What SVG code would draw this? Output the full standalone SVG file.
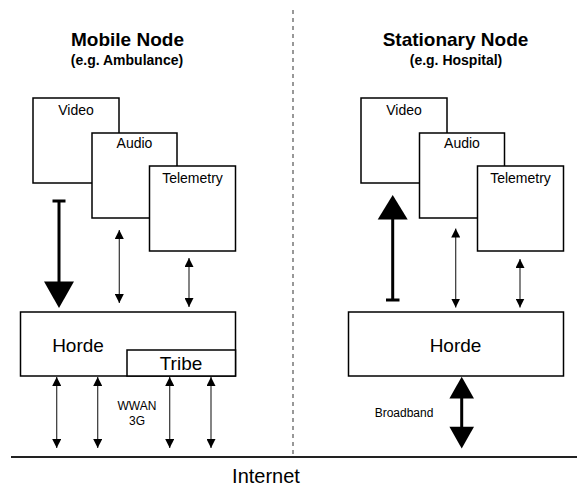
<svg xmlns="http://www.w3.org/2000/svg" width="577" height="488" viewBox="0 0 577 488">
  <defs>
    <style>
      text { font-family: "Liberation Sans", Arial, sans-serif; fill: #000; }
      .title { font-size: 19px; font-weight: bold; text-anchor: middle; }
      .sub { font-size: 14px; font-weight: bold; text-anchor: middle; }
      .lbl { font-size: 14px; text-anchor: middle; }
      .big { font-size: 19px; text-anchor: middle; }
      .small { font-size: 12px; text-anchor: middle; }
      .box { fill: #fff; stroke: #000; stroke-width: 1.5; }
      .thin { stroke: #333; stroke-width: 1.2; fill: none; }
      .thick { stroke: #000; stroke-width: 3; fill: none; }
      .head { fill: #000; }
    </style>
    <marker id="sm" viewBox="0 0 10 10" refX="10" refY="5" markerWidth="9" markerHeight="9" markerUnits="userSpaceOnUse" orient="auto-start-reverse">
      <path d="M0,0 L10,5 L0,10 Z" fill="#000"/>
    </marker>
  </defs>

  <!-- divider between the two sites -->
  <line x1="293" y1="10" x2="293" y2="456" stroke="#777" stroke-width="1.5" stroke-dasharray="4 4"/>

  <!-- Internet backbone -->
  <g id="internet">
    <line x1="11" y1="457" x2="577" y2="457" stroke="#222" stroke-width="2"/>
    <text x="266" y="483" font-size="20" text-anchor="middle">Internet</text>
  </g>

  <!-- Mobile node -->
  <g id="mobile-title">
    <text class="title" x="127.5" y="46">Mobile Node</text>
    <text class="sub" x="127" y="65">(e.g. Ambulance)</text>
  </g>
  <g id="m-video">
    <rect class="box" x="33" y="98" width="86" height="85"/>
    <text class="lbl" x="76" y="115">Video</text>
  </g>
  <g id="m-audio">
    <rect class="box" x="92" y="133" width="85" height="85"/>
    <text class="lbl" x="134.5" y="148">Audio</text>
  </g>
  <g id="m-telemetry">
    <rect class="box" x="149.5" y="166" width="86" height="85"/>
    <text class="lbl" x="192.5" y="183">Telemetry</text>
  </g>
  <g id="m-horde">
    <rect class="box" x="20.5" y="312" width="215" height="64"/>
    <text class="big" x="78" y="352">Horde</text>
  </g>
  <g id="m-tribe">
    <rect class="box" x="127" y="350" width="108.5" height="26"/>
    <text class="big" x="181" y="370">Tribe</text>
  </g>

  <!-- Stationary node -->
  <g id="stationary-title">
    <text class="title" x="455.5" y="46">Stationary Node</text>
    <text class="sub" x="456" y="65">(e.g. Hospital)</text>
  </g>
  <g id="s-video">
    <rect class="box" x="361" y="98" width="86" height="85"/>
    <text class="lbl" x="404" y="115">Video</text>
  </g>
  <g id="s-audio">
    <rect class="box" x="419.5" y="133" width="85" height="85"/>
    <text class="lbl" x="462" y="148">Audio</text>
  </g>
  <g id="s-telemetry">
    <rect class="box" x="477.5" y="166" width="86" height="85"/>
    <text class="lbl" x="520.5" y="183">Telemetry</text>
  </g>
  <g id="s-horde">
    <rect class="box" x="348.5" y="312" width="215" height="64"/>
    <text class="big" x="455.5" y="352">Horde</text>
  </g>

  <!-- connectors -->
  <g id="connectors">
    <!-- video stream, mobile -> horde -->
    <line class="thick" x1="59" y1="201" x2="59" y2="283"/>
    <line class="thick" x1="52.5" y1="201" x2="65.5" y2="201"/>
    <path class="head" d="M44,281.5 L74,281.5 L59,308 Z"/>

    <!-- video stream, horde -> hospital video -->
    <line class="thick" x1="392.7" y1="300" x2="392.7" y2="217"/>
    <line class="thick" x1="386" y1="300" x2="399.5" y2="300"/>
    <path class="head" d="M377.7,219.5 L407.7,219.5 L392.7,195 Z"/>

    <!-- audio / telemetry links -->
    <line class="thin" x1="119.3" y1="230" x2="119.3" y2="303" marker-start="url(#sm)" marker-end="url(#sm)"/>
    <line class="thin" x1="189" y1="258" x2="189" y2="307" marker-start="url(#sm)" marker-end="url(#sm)"/>
    <line class="thin" x1="455.7" y1="228.5" x2="455.7" y2="307.5" marker-start="url(#sm)" marker-end="url(#sm)"/>
    <line class="thin" x1="520" y1="259" x2="520" y2="307.5" marker-start="url(#sm)" marker-end="url(#sm)"/>

    <!-- WWAN uplinks -->
    <line class="thin" x1="56.7" y1="377" x2="56.7" y2="448" marker-start="url(#sm)" marker-end="url(#sm)"/>
    <line class="thin" x1="97.7" y1="377" x2="97.7" y2="448" marker-start="url(#sm)" marker-end="url(#sm)"/>
    <line class="thin" x1="169.7" y1="377" x2="169.7" y2="448" marker-start="url(#sm)" marker-end="url(#sm)"/>
    <line class="thin" x1="211" y1="377" x2="211" y2="448" marker-start="url(#sm)" marker-end="url(#sm)"/>

    <!-- broadband link -->
    <line class="thick" x1="461.7" y1="396" x2="461.7" y2="429"/>
    <path class="head" d="M461.7,376.7 L474,398.5 L449.4,398.5 Z"/>
    <path class="head" d="M461.7,448.5 L474,426.7 L449.4,426.7 Z"/>
  </g>

  <g id="link-labels">
    <text class="small" x="137" y="410">WWAN</text>
    <text class="small" x="137" y="425">3G</text>
    <text class="small" x="404" y="417">Broadband</text>
  </g>
</svg>
